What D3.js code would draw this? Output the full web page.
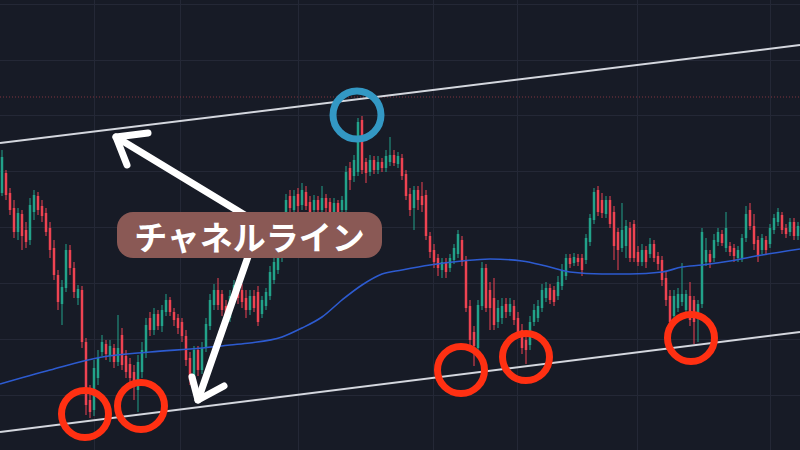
<!DOCTYPE html>
<html>
<head>
<meta charset="utf-8">
<script src="https://cdn.jsdelivr.net/npm/d3@7"></script>
<style>
  html, body { margin: 0; padding: 0; background: #171b26; }
  svg { display: block; }
</style>
</head>
<body>
<svg id="chart" width="800" height="450"></svg>
<script>
// ---- data ----
const opens  = [357,377,357,342,318,336,320,310,338,354,344,337,322,302,275,246,262,300,282,252,260,208,150,140,172,198,206,194,202,188,215,194,186,178,160,178,198,232,220,236,224,238,250,238,232,228,214,192,170,200,180,202,224,245,260,256,244,232,252,264,260,252,240,254,258,236,244,254,270,280,292,318,354,340,356,345,358,348,340,350,340,352,348,338,347,340,340,382,374,378,430,388,378,390,380,388,382,388,395,386,392,376,356,342,360,354,355,314,300,292,280,288,282,290,296,310,290,244,218,202,244,282,260,252,228,232,246,238,244,232,220,210,205,228,232,242,252,262,260,254,264,274,292,287,292,292,290,308,330,360,350,336,350,338,318,302,304,322,326,298,288,300,296,306,294,290,272,254,234,242,248,240,254,250,234,246,288,296,292,308,316,302,304,302,292,292,312,340,324,310,300,310,306,320,328,335,322,318,328,314];
const highs  = [400,380,362,350,342,340,328,352,360,358,350,342,328,310,280,270,306,305,288,265,264,212,165,190,200,215,210,210,206,235,222,200,192,185,195,208,232,238,242,240,245,256,253,242,236,232,220,198,204,204,208,232,256,266,272,260,250,260,270,270,266,260,260,260,264,254,262,284,294,300,325,356,360,360,362,367,364,354,355,354,364,356,352,352,350,354,384,388,395,432,434,392,395,394,394,392,400,413,400,398,396,380,362,364,364,368,360,318,306,296,292,292,296,306,320,314,294,250,224,250,288,286,268,272,250,252,252,252,250,238,226,216,234,246,250,266,268,266,264,274,286,296,296,297,296,296,316,336,362,364,357,354,354,344,322,347,330,328,330,304,306,304,312,310,298,294,278,260,260,262,287,260,268,254,250,322,312,300,316,322,320,338,308,306,304,316,344,347,336,314,316,314,326,336,342,338,326,332,332,328];
const lows   = [354,350,335,312,310,300,302,305,330,335,328,314,292,270,240,225,258,275,252,245,202,135,132,134,165,194,190,188,182,184,180,172,166,150,138,172,192,214,215,220,218,234,234,224,216,208,184,165,164,174,176,198,220,240,240,234,226,228,248,246,242,232,235,238,224,232,240,250,266,276,288,314,336,336,338,340,340,334,335,335,336,338,334,334,332,336,336,360,368,374,376,367,374,376,376,378,378,384,384,382,370,350,334,320,340,338,310,292,282,274,272,272,278,286,292,284,238,202,184,194,240,238,220,220,222,226,232,234,225,212,196,186,200,224,228,238,248,246,244,250,260,270,282,284,284,274,286,304,326,334,332,332,322,290,280,298,292,288,288,284,284,282,292,288,280,264,244,224,228,238,244,236,224,206,208,242,284,282,288,304,304,298,294,288,288,288,308,320,300,288,296,296,302,316,324,316,312,314,310,310];
const closes = [393,355,340,318,337,314,308,345,355,340,334,318,300,275,248,263,300,282,258,261,208,145,138,182,192,208,196,204,188,202,185,178,172,166,188,200,225,220,236,224,240,250,238,230,222,214,190,170,200,180,202,226,250,260,245,240,232,254,265,252,248,240,254,242,228,250,258,278,288,295,320,350,342,354,344,360,344,338,350,340,352,342,338,347,338,350,378,370,390,428,380,377,390,380,388,382,394,395,387,394,374,354,340,360,350,345,314,298,288,282,288,278,292,302,316,288,242,210,204,245,282,242,242,225,242,244,238,246,230,218,202,200,228,240,244,260,262,250,248,268,280,292,286,293,288,280,312,332,358,338,337,350,326,304,300,320,324,292,292,288,300,288,306,292,286,270,250,228,254,256,256,256,230,228,246,318,300,288,310,318,307,322,298,294,300,312,336,324,306,294,312,300,322,332,338,320,316,328,314,324];

// 200-period-style moving average, sampled at candle indices
const maIndex  = [-0.5, 12, 25, 37, 50, 57, 62, 70, 75, 80, 85, 90, 95, 100, 107, 115, 122, 130, 136, 142, 150, 157, 165, 170, 175, 182, 190, 199.5];
const maValues = [166, 180, 193, 198, 202, 205, 207, 213, 222, 233, 250, 265, 276, 280, 285, 289, 291, 289, 284, 278, 276, 276, 278, 283, 285, 289, 295, 301];

// channel lines (end points in index / price space)
const channelIndex = [-0.5, 199.5];
const upperChannel = [407, 505];
const lowerChannel = [118, 218];

// reference level (dotted)
const refLevel = 453;

// grid ticks
const priceGridTicks = [155, 211, 267, 323, 379, 435, 490, 546];
const timeGridTicks  = [23, 44.5, 74, 107.75, 128.75, 158.75, 192];

// annotations (index, price)
const topTouch    = [[88.75, 435]];
const bottomTouch = [[20.75, 136], [34.75, 144], [114.75, 180], [131, 193], [172.25, 212]];
const arrowUpper  = { tail: [64, 327], tip: [28.5, 413], arms: [[36.5, 417], [31.25, 385]] };
const arrowLower  = { tail: [64, 322], tip: [49, 150], arms: [[47.5, 173], [55.5, 164]] };
const labelText   = "チャネルライン";
const labelAnchor = [61.875, 315];

// ---- drawing ----
const W = 800, H = 450;
const svg = d3.select("#chart");
const n = closes.length;

const x = d3.scaleLinear().domain([-0.5, n - 0.5]).range([0, W]);
const y = d3.scaleLinear().domain([100, 550]).range([H, 0]);

svg.append("rect").attr("width", W).attr("height", H).attr("fill", "#171b26");

// grid
const grid = svg.append("g").attr("stroke", "#242836").attr("stroke-width", 1);
grid.selectAll("line.h").data(priceGridTicks).join("line")
  .attr("class", "h").attr("x1", 0).attr("x2", W)
  .attr("y1", d => Math.round(y(d)) + 0.5).attr("y2", d => Math.round(y(d)) + 0.5);
grid.selectAll("line.v").data(timeGridTicks).join("line")
  .attr("class", "v").attr("y1", 0).attr("y2", H)
  .attr("x1", d => Math.round(x(d)) + 0.5).attr("x2", d => Math.round(x(d)) + 0.5);

// dotted reference level
svg.append("line")
  .attr("x1", 0).attr("x2", W)
  .attr("y1", y(refLevel)).attr("y2", y(refLevel))
  .attr("stroke", "#9c3a45").attr("stroke-width", 1)
  .attr("stroke-dasharray", "1,2").attr("opacity", 0.8);

// candles
const candles = d3.range(n).map(i => ({ i, o: opens[i], h: highs[i], l: lows[i], c: closes[i] }));
const up = "#22a28a", down = "#ee4352";
const bw = (x(1) - x(0)) * 0.62;
const cg = svg.append("g");
cg.selectAll("line.wick").data(candles).join("line")
  .attr("class", "wick")
  .attr("x1", d => x(d.i)).attr("x2", d => x(d.i))
  .attr("y1", d => y(d.h)).attr("y2", d => y(d.l))
  .attr("stroke", d => d.c >= d.o ? up : down).attr("stroke-width", 1);
cg.selectAll("rect.body").data(candles).join("rect")
  .attr("class", "body")
  .attr("x", d => x(d.i) - bw / 2).attr("width", bw)
  .attr("y", d => y(Math.max(d.o, d.c)))
  .attr("height", d => Math.max(1, Math.abs(y(d.o) - y(d.c))))
  .attr("fill", d => d.c >= d.o ? up : down);

// moving average
const maData = maIndex.map((k, j) => [k, maValues[j]]);
svg.append("path").datum(maData)
  .attr("d", d3.line().x(d => x(d[0])).y(d => y(d[1])).curve(d3.curveMonotoneX))
  .attr("fill", "none").attr("stroke", "#2d5bd0").attr("stroke-width", 1.6);

// channel lines
[upperChannel, lowerChannel].forEach(ch => {
  svg.append("line")
    .attr("x1", x(channelIndex[0])).attr("y1", y(ch[0]))
    .attr("x2", x(channelIndex[1])).attr("y2", y(ch[1]))
    .attr("stroke", "#d4d7de").attr("stroke-width", 2);
});

// touch circles
svg.selectAll("circle.top").data(topTouch).join("circle")
  .attr("class", "top")
  .attr("cx", d => x(d[0])).attr("cy", d => y(d[1])).attr("r", 24)
  .attr("fill", "none").attr("stroke", "#3398c4").attr("stroke-width", 7);
svg.selectAll("circle.bottom").data(bottomTouch).join("circle")
  .attr("class", "bottom")
  .attr("cx", d => x(d[0])).attr("cy", d => y(d[1])).attr("r", 23.5)
  .attr("fill", "none").attr("stroke", "#ff3012").attr("stroke-width", 7);

// arrows
const lineGen = d3.line().x(d => x(d[0])).y(d => y(d[1]));
[arrowUpper, arrowLower].forEach(a => {
  const g = svg.append("g").attr("fill", "none").attr("stroke", "#ffffff")
    .attr("stroke-width", 7).attr("stroke-linecap", "round").attr("stroke-linejoin", "round");
  g.append("path").attr("d", lineGen([a.tail, a.tip]));
  g.append("path").attr("d", lineGen([a.arms[0], a.tip, a.arms[1]]));
});

// label
const lx = x(labelAnchor[0]), ly = y(labelAnchor[1]);
const lw = 265, lh = 46;
svg.append("rect")
  .attr("x", lx - lw / 2).attr("y", ly - lh / 2)
  .attr("width", lw).attr("height", lh).attr("rx", 16).attr("ry", 16)
  .attr("fill", "#8a5955");
svg.append("text")
  .attr("x", lx).attr("y", ly + 1)
  .attr("text-anchor", "middle").attr("dominant-baseline", "central")
  .attr("font-family", "'Noto Sans CJK JP', 'Noto Sans', sans-serif")
  .attr("font-weight", 700).attr("font-size", 33)
  .attr("fill", "#ffffff")
  .text(labelText);
</script>
</body>
</html>
